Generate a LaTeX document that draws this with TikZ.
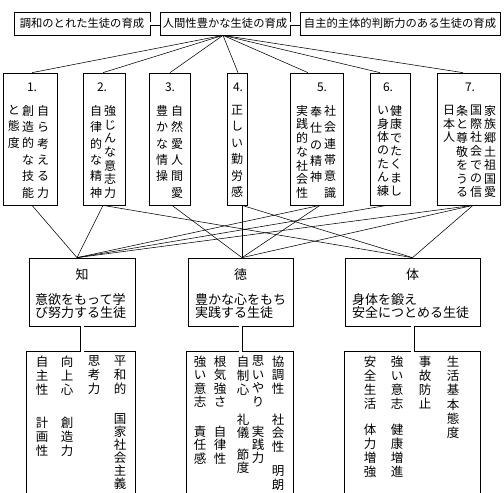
\documentclass[tikz,border=0pt]{standalone}
\usepackage{fontspec}
\setmainfont{Noto Sans CJK JP}
\makeatletter
\newcommand\vcolumn[2]{\vtop{\baselineskip=#1pt\lineskiplimit=-100pt\lineskip=0pt\vcol@loop#2\relax}}
\def\vcol@loop#1{\ifx\relax#1\else\hbox to 1em{\hss#1\hss}\expandafter\vcol@loop\fi}
\makeatother
\begin{document}
\begin{tikzpicture}[x=1pt,y=-1pt,
  box/.style={draw,line width=0.7pt,inner sep=0pt},
  topbox/.style={box,minimum height=23pt,font=\fontsize{11.3}{13}\selectfont},
  sevenbox/.style={box,minimum height=132pt},
  midbox/.style={box,minimum height=68pt},
  listbox/.style={inner sep=0pt,minimum height=141pt},
  conn/.style={line width=0.55pt},
  dbl/.style={double,double distance=3pt,line width=0.5pt},
  num/.style={inner sep=0pt,font=\fontsize{12}{14}\selectfont},
  vt/.style={inner sep=0pt,anchor=north,font=\fontsize{12}{14}\selectfont},
  lt/.style={inner sep=0pt,anchor=north,font=\fontsize{12.5}{14}\selectfont},
  midtitle/.style={inner sep=0pt,font=\fontsize{13}{14}\selectfont},
  midtext/.style={inner sep=0pt,anchor=north west,align=left,font=\fontsize{13}{13.5}\selectfont},
]
\useasboundingbox (0,0) rectangle (504,493);

% top row
\node[topbox,minimum width=136pt] (T1) at (82,23.5) {調和のとれた生徒の育成};
\node[topbox,minimum width=130pt] (T2) at (225,23.5) {人間性豊かな生徒の育成};
\node[topbox,minimum width=200pt] (T3) at (400,23.5) {自主的主体的判断力のある生徒の育成};
\draw[dbl] (T1.east) -- (T2.west);
\draw[dbl] (T2.east) -- (T3.west);

% seven boxes
\node[sevenbox,minimum width=54pt] (B1) at (30,139) {};
\node[sevenbox,minimum width=42pt] (B2) at (104,139) {};
\node[sevenbox,minimum width=41pt] (B3) at (169.5,139) {};
\node[sevenbox,minimum width=20pt] (B4) at (237,139) {};
\node[sevenbox,minimum width=53pt] (B5) at (316.5,139) {};
\node[sevenbox,minimum width=40pt] (B6) at (390,139) {};
\node[sevenbox,minimum width=63pt] (B7) at (468.5,139) {};

\node[num] (n1) at (32,87) {1.};
\node[num] (n2) at (102,87) {2.};
\node[num] (n3) at (170,87) {3.};
\node[num] (n4) at (238,87) {4.};
\node[num] (n5) at (322,87) {5.};
\node[num] (n6) at (388,87) {6.};
\node[num] (n7) at (470,87) {7.};

\node[vt] (c1a) at (43,105) {\vcolumn{16.4}{自ら考える力}};
\node[vt] (c1b) at (28,105) {\vcolumn{16.4}{創造的な技能}};
\node[vt] (c1c) at (14,105) {\vcolumn{16.4}{と態度}};
\node[vt] (c2a) at (110,105) {\vcolumn{13.7}{強じんな意志力}};
\node[vt] (c2b) at (96,105) {\vcolumn{16.4}{自律的な精神}};
\node[vt] (c3a) at (177,105) {\vcolumn{16.4}{自然愛人間愛}};
\node[vt] (c3b) at (162,105) {\vcolumn{16.4}{豊かな情操}};
\node[vt] (c4a) at (237,105) {\vcolumn{16.4}{正しい勤労感}};
\node[vt] (c5a) at (330,105) {\vcolumn{16.4}{社会連帯意識}};
\node[vt] (c5b) at (316,106) {\vcolumn{16.4}{奉仕の精神}};
\node[vt] (c5c) at (302,105) {\vcolumn{13.7}{実践的な社会性}};
\node[vt] (c6a) at (396,105) {\vcolumn{13.4}{健康でたくまし}};
\node[vt] (c6b) at (383,106) {\vcolumn{13.4}{い身体のたん練}};
\node[vt] (c7a) at (490,105) {\vcolumn{13.6}{家族郷土祖国愛}};
\node[vt] (c7b) at (476,105) {\vcolumn{13.6}{国際社会での信}};
\node[vt] (c7c) at (462,105) {\vcolumn{13.6}{条と尊敬をうる}};
\node[vt] (c7d) at (449,105) {\vcolumn{13.6}{日本人}};

% connectors top -> seven
\coordinate (P) at ([xshift=-2pt]T2.south);
\draw[conn] (P) -- ([xshift=2pt]B1.north);
\draw[conn] (P) -- ([xshift=-1pt]B2.north);
\draw[conn] (P) -- ([xshift=0.5pt]B3.north);
\draw[conn] (P) -- ([xshift=1pt]B4.north);
\draw[conn] (P) -- ([xshift=-8.5pt]B5.north);
\draw[conn] (P) -- ([xshift=-10pt]B6.north);
\draw[conn] (P) -- ([xshift=-5.5pt]B7.north);

% middle boxes
\node[midbox,minimum width=106pt] (M1) at (82,292) {};
\node[midbox,minimum width=105pt] (M2) at (240.5,292) {};
\node[midbox,minimum width=135pt] (M3) at (412.5,292) {};
\node[midtitle] (m1t) at (82,275) {知};
\node[midtitle] (m2t) at (240.5,275) {徳};
\node[midtitle] (m3t) at (412.5,275) {体};
\node[midtext] (m1s) at (35,293) {意欲をもって学\\び努力する生徒};
\node[midtext] (m2s) at (195,293) {豊かな心をもち\\実践する生徒};
\node[midtext] (m3s) at (352,293) {身体を鍛え\\安全につとめる生徒};

% connectors seven -> middle
\coordinate (kz) at ([xshift=-5pt]M1.north);
\coordinate (kd) at ([xshift=1.5pt]M2.north);
\coordinate (kt) at (M3.north);
\coordinate (s1) at ([xshift=2pt]B1.south);
\coordinate (s2) at ([xshift=-1pt]B2.south);
\coordinate (s3) at ([xshift=2.5pt]B3.south);
\coordinate (s4) at ([xshift=5pt]B4.south);
\coordinate (s5) at ([xshift=3.5pt]B5.south);
\coordinate (s6) at ([xshift=-3pt]B6.south);
\coordinate (s7) at ([xshift=4.5pt]B7.south);
\draw[conn] (s1) -- (kz);
\draw[conn] (s2) -- (kz);
\draw[conn] (s2) -- (kt);
\draw[conn] (s3) -- (kd);
\draw[conn] (s4) -- (kd);
\draw[conn] (s4) -- (kt);
\draw[conn] (s5) -- (kz);
\draw[conn] (s5) -- (kd);
\draw[conn] (s6) -- (kz);
\draw[conn] (s7) -- (kz);
\draw[conn] (s7) -- (kd);
\draw[conn] (s7) -- (kt);

% list boxes (open at the bottom)
\node[listbox,minimum width=108pt] (L1) at (81,422.5) {};
\node[listbox,minimum width=106pt] (L2) at (240,422.5) {};
\node[listbox,minimum width=135pt] (L3) at (412.5,422.5) {};
\draw[line width=0.7pt] (L1.south west) |- (L1.north east) -- (L1.south east);
\draw[line width=0.7pt] (L2.south west) |- (L2.north east) -- (L2.south east);
\draw[line width=0.7pt] (L3.south west) |- (L3.north east) -- (L3.south east);
\draw[dbl] (M1.south) -- (M1.south |- L1.north);
\draw[dbl] (M2.south) -- (M2.south |- L2.north);
\draw[dbl] (M3.south) -- (M3.south |- L3.north);

% list texts: 知
\node[lt] (z1) at (120,355.5) {\vcolumn{14}{平和的}};
\node[lt] (z2) at (120,413.5) {\vcolumn{13}{国家社会主義}};
\node[lt] (z3) at (94,355.5) {\vcolumn{14}{思考力}};
\node[lt] (z4) at (67,355.5) {\vcolumn{14}{向上心}};
\node[lt] (z5) at (67,416.5) {\vcolumn{14}{創造力}};
\node[lt] (z6) at (42,355.5) {\vcolumn{14}{自主性}};
\node[lt] (z7) at (42,416.5) {\vcolumn{14}{計画性}};
% 徳
\node[lt] (d1) at (278,355.5) {\vcolumn{13.5}{協調性}};
\node[lt] (d2) at (278,413.5) {\vcolumn{13.5}{社会性}};
\node[lt] (d3) at (278,465.5) {\vcolumn{13.5}{明朗}};
\node[lt] (d4) at (258,355.5) {\vcolumn{13.5}{思いやり}};
\node[lt] (d5) at (258,425.5) {\vcolumn{13}{実践力}};
\node[lt] (d6) at (243,355.5) {\vcolumn{14}{自制心}};
\node[lt] (d7) at (243,413.5) {\vcolumn{13}{礼儀}};
\node[lt] (d8) at (243,448.5) {\vcolumn{13}{節度}};
\node[lt] (d9) at (220,355.5) {\vcolumn{13.5}{根気強さ}};
\node[lt] (d10) at (220,425.5) {\vcolumn{13.5}{自律性}};
\node[lt] (d11) at (200,355.5) {\vcolumn{13.5}{強い意志}};
\node[lt] (d12) at (200,425.5) {\vcolumn{13.5}{責任感}};
% 体
\node[lt] (t1) at (453,355.5) {\vcolumn{14.3}{生活基本態度}};
\node[lt] (t2) at (425,355.5) {\vcolumn{14}{事故防止}};
\node[lt] (t3) at (397,355.5) {\vcolumn{14}{強い意志}};
\node[lt] (t4) at (397,423.5) {\vcolumn{14}{健康増進}};
\node[lt] (t5) at (370,355.5) {\vcolumn{14}{安全生活}};
\node[lt] (t6) at (370,423.5) {\vcolumn{14}{体力増強}};
\end{tikzpicture}
\end{document}
